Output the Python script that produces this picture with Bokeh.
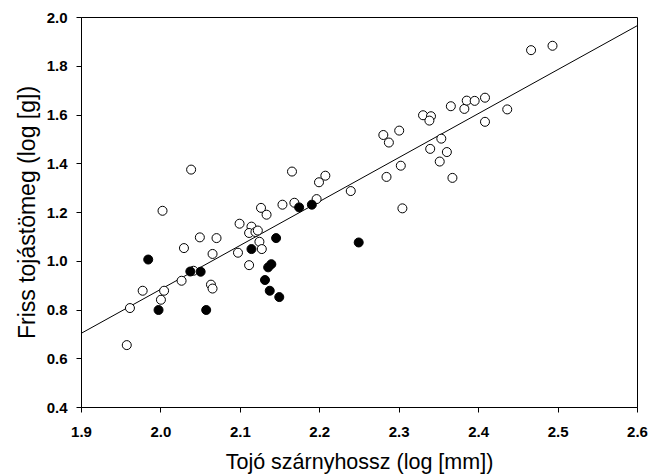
from bokeh.plotting import figure
from bokeh.models import Range1d, FixedTicker
from bokeh.embed import file_html
from bokeh.resources import INLINE

# open circles (white)
open_x = [1.957, 1.961, 1.977, 2.000, 2.004, 2.002, 2.026, 2.029, 2.038, 2.041,
          2.049, 2.063, 2.065, 2.065, 2.070, 2.097, 2.099, 2.111, 2.114, 2.111,
          2.119, 2.122, 2.124, 2.127, 2.126, 2.133, 2.153, 2.165, 2.168, 2.196,
          2.199, 2.207, 2.239, 2.284, 2.304, 2.302, 2.280, 2.287, 2.300, 2.330,
          2.340, 2.338, 2.339, 2.353, 2.351, 2.360, 2.367, 2.365, 2.382, 2.385,
          2.395, 2.408, 2.408, 2.436, 2.466, 2.493]
open_y = [0.656, 0.808, 0.879, 0.842, 0.879, 1.207, 0.920, 1.054, 1.376, 0.961,
          1.098, 0.904, 0.888, 1.030, 1.095, 1.035, 1.154, 0.984, 1.142, 1.116,
          1.120, 1.126, 1.080, 1.050, 1.219, 1.191, 1.232, 1.368, 1.240, 1.255,
          1.324, 1.351, 1.288, 1.346, 1.217, 1.392, 1.518, 1.487, 1.536, 1.599,
          1.595, 1.577, 1.461, 1.503, 1.409, 1.448, 1.342, 1.636, 1.625, 1.659,
          1.658, 1.671, 1.572, 1.623, 1.866, 1.884]

# filled circles (black)
fill_x = [1.984, 1.997, 2.037, 2.050, 2.057, 2.114, 2.145, 2.139, 2.135, 2.131,
          2.137, 2.149, 2.174, 2.190, 2.249]
fill_y = [1.007, 0.800, 0.958, 0.957, 0.800, 1.050, 1.095, 0.988, 0.975, 0.923,
          0.879, 0.853, 1.221, 1.232, 1.077]

# regression line end points
line_x = [1.9, 2.6]
line_y = [0.705, 1.967]

x_ticks = [1.9, 2.0, 2.1, 2.2, 2.3, 2.4, 2.5, 2.6]
y_ticks = [0.4, 0.6, 0.8, 1.0, 1.2, 1.4, 1.6, 1.8, 2.0]

p = figure(width=650, height=476, output_backend="svg", toolbar_location=None,
           x_range=Range1d(1.9, 2.6), y_range=Range1d(0.4, 2.0),
           min_border_left=81, min_border_top=17, min_border_right=13,
           min_border_bottom=69)

p.xgrid.visible = False
p.ygrid.visible = False
p.outline_line_color = "black"
p.outline_line_width = 1
p.background_fill_color = "white"
p.border_fill_color = "white"

p.line(line_x, line_y, line_color="black", line_width=1)

p.scatter(open_x, open_y, size=9, fill_color="white", line_color="black", line_width=1)
p.scatter(fill_x, fill_y, size=9, fill_color="black", line_color="black", line_width=1)

p.xaxis.ticker = FixedTicker(ticks=x_ticks)
p.yaxis.ticker = FixedTicker(ticks=y_ticks)
p.xaxis.major_label_overrides = {t: f"{t:.1f}" for t in x_ticks}
p.yaxis.major_label_overrides = {t: f"{t:.1f}" for t in y_ticks}

for ax in (p.xaxis[0], p.yaxis[0]):
    ax.axis_line_color = "black"
    ax.axis_line_width = 1
    ax.major_tick_line_color = "black"
    ax.major_tick_in = 0
    ax.major_tick_out = 5
    ax.minor_tick_line_color = None
    ax.major_label_text_font = "Liberation Sans"
    ax.major_label_text_font_style = "bold"
    ax.major_label_text_font_size = "15px"
    ax.major_label_text_color = "black"
    ax.axis_label_text_font = "Liberation Sans"
    ax.axis_label_text_font_style = "normal"
    ax.axis_label_text_color = "black"

p.xaxis.axis_label = "Tojó szárnyhossz (log [mm])"
p.yaxis.axis_label = "Friss tojástömeg (log [g])"
p.xaxis.axis_label_text_font_size = "21.5px"
p.yaxis.axis_label_text_font_size = "23px"
p.xaxis.major_label_standoff = 14
p.yaxis.major_label_standoff = 9
p.xaxis.axis_label_standoff = 10
p.yaxis.axis_label_standoff = 4

open("out.html", "w").write(file_html(p, INLINE))
